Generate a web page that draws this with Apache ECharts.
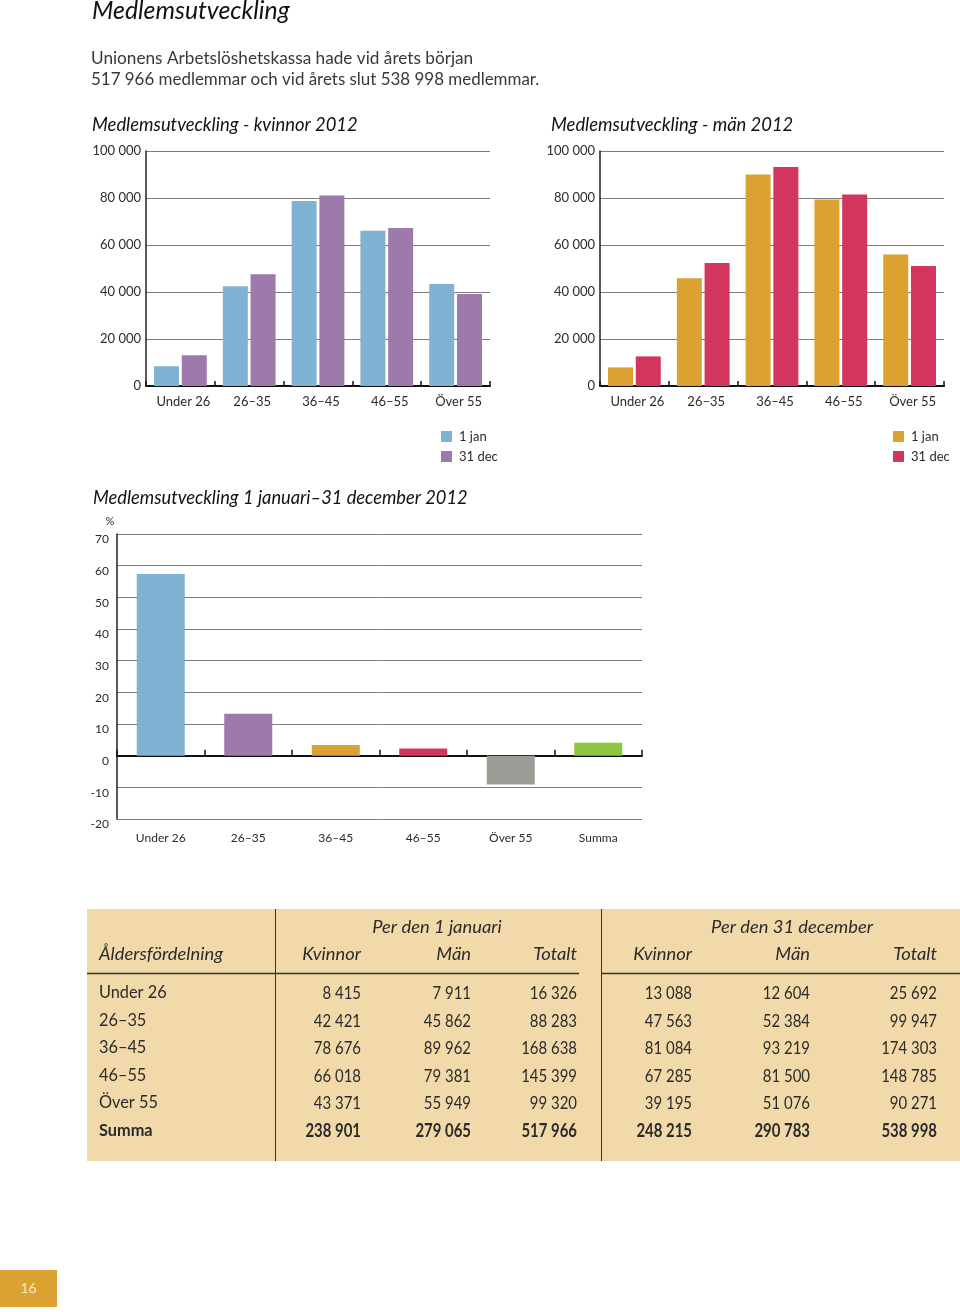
<!DOCTYPE html>
<html>
<head>
<meta charset="utf-8">
<script src="https://cdn.jsdelivr.net/npm/echarts@6/dist/echarts.min.js"></script>
<style>
html,body{margin:0;padding:0;background:#fff;}
#c{width:960px;height:1312px;}
</style>
</head>
<body>
<div id="c"></div>
<script>
// ---------- data ----------
const categories = ['Under 26', '26–35', '36–45', '46–55', 'Över 55'];
const kvinnorJan = [8415, 42421, 78676, 66018, 43371];
const kvinnorDec = [13088, 47563, 81084, 67285, 39195];
const manJan = [7911, 45862, 89962, 79381, 55949];
const manDec = [12604, 52384, 93219, 81500, 51076];

const changeCategories = ['Under 26', '26–35', '36–45', '46–55', 'Över 55', 'Summa'];
const changePct = [57.4, 13.2, 3.4, 2.3, -9.1, 4.1];

const tableRows = ['Under 26', '26–35', '36–45', '46–55', 'Över 55', 'Summa'];
const janKvinnor = [8415, 42421, 78676, 66018, 43371, 238901];
const janMan = [7911, 45862, 89962, 79381, 55949, 279065];
const janTotalt = [16326, 88283, 168638, 145399, 99320, 517966];
const decKvinnor = [13088, 47563, 81084, 67285, 39195, 248215];
const decMan = [12604, 52384, 93219, 81500, 51076, 290783];
const decTotalt = [25692, 99947, 174303, 148785, 90271, 538998];

// ---------- styles ----------
const FONT = 'Lato, "Noto Sans", sans-serif';
const C_BLUE = '#7fb2d3', C_PURPLE = '#9d79ac', C_GOLD = '#dba232', C_RED = '#d2365e';
const changeColors = ['#7fb2d3', '#9d79ac', '#dba232', '#d2365e', '#9d9b95', '#8dc63f'];
const TXT = '#2b2b2b';

function fmt(v) { return String(v).replace(/\B(?=(\d{3})+(?!\d))/g, ' '); }

function memberY(idx) {
  return {
    type: 'value', gridIndex: idx, min: 0, max: 100000, interval: 20000,
    axisLine: { show: true, lineStyle: { color: '#222', width: 1.5 } },
    axisTick: { show: false },
    axisLabel: { color: TXT, fontFamily: FONT, fontSize: 13, margin: 5, formatter: fmt },
    splitLine: { lineStyle: { color: '#7d7d7d', width: 1 } }
  };
}
function memberX(idx) {
  return {
    type: 'category', gridIndex: idx, data: categories,
    axisLine: { lineStyle: { color: '#111', width: 2 } },
    axisTick: { show: true, inside: true, length: 5, lineStyle: { color: '#111', width: 1.5 } },
    axisLabel: { color: TXT, fontFamily: FONT, fontSize: 13, margin: 9, interval: 0, padding: [0, 0, 0, 6] }
  };
}
function barSeries(name, data, color, idx) {
  return {
    type: 'bar', name: name, xAxisIndex: idx, yAxisIndex: idx, data: data,
    barWidth: 25, barGap: '11%', itemStyle: { color: color }, silent: true
  };
}

function txt(x, y, text, opt) {
  opt = opt || {};
  return {
    type: 'text', x: x, y: y, scaleX: opt.sx || 1, silent: true,
    style: {
      text: text, x: 0, y: 0,
      font: (opt.style || '') + ' ' + (opt.weight || 'normal') + ' ' + (opt.size || 17) + 'px ' + FONT,
      fill: opt.color || TXT,
      align: opt.align || 'left', textAlign: opt.align || 'left',
      verticalAlign: 'middle', textVerticalAlign: 'middle'
    }
  };
}

// ---------- graphics (titles, table) ----------
const graphics = [];
graphics.push(txt(92, 11, 'Medlemsutveckling', { style: 'italic', size: 24.8, color: '#111' }));
graphics.push(txt(91, 58, 'Unionens Arbetslöshetskassa hade vid årets början', { size: 17.2, color: '#383838' }));
graphics.push(txt(91, 79, '517 966 medlemmar och vid årets slut 538 998 medlemmar.', { size: 17.2, color: '#383838', sx: 0.985 }));
graphics.push(txt(92, 125, 'Medlemsutveckling - kvinnor 2012', { style: 'italic', size: 18.4, color: '#111' }));
graphics.push(txt(551, 125, 'Medlemsutveckling - män 2012', { style: 'italic', size: 18.4, color: '#111' }));
graphics.push(txt(93, 498, 'Medlemsutveckling 1 januari–31 december 2012', { style: 'italic', size: 18.3, color: '#111' }));
graphics.push(txt(110, 521, '%', { size: 11, align: 'center' }));

// table background and rules
graphics.push({ type: 'rect', silent: true, shape: { x: 87, y: 909, width: 873, height: 252 }, style: { fill: '#f2d9a9' } });
graphics.push({ type: 'line', silent: true, shape: { x1: 275.5, y1: 909, x2: 275.5, y2: 1161 }, style: { stroke: '#333', lineWidth: 1 } });
graphics.push({ type: 'line', silent: true, shape: { x1: 601.5, y1: 909, x2: 601.5, y2: 1161 }, style: { stroke: '#333', lineWidth: 1 } });
graphics.push({ type: 'line', silent: true, shape: { x1: 87, y1: 973.5, x2: 579, y2: 973.5 }, style: { stroke: '#333', lineWidth: 1.5 } });
graphics.push({ type: 'line', silent: true, shape: { x1: 601, y1: 973.5, x2: 960, y2: 973.5 }, style: { stroke: '#333', lineWidth: 1.5 } });

const SXH = 1.02, SXN = 0.83;
graphics.push(txt(437, 927, 'Per den 1 januari', { style: 'italic', size: 18, align: 'center', sx: SXH }));
graphics.push(txt(792, 927, 'Per den 31 december', { style: 'italic', size: 18, align: 'center', sx: SXH }));
graphics.push(txt(99, 954, 'Åldersfördelning', { style: 'italic', size: 18, sx: SXH }));
const colRight = [361, 471, 577, 692, 810, 937];
const colHeads = ['Kvinnor', 'Män', 'Totalt', 'Kvinnor', 'Män', 'Totalt'];
colHeads.forEach((h, i) => graphics.push(txt(colRight[i], 954, h, { style: 'italic', size: 18, align: 'right', sx: SXH })));
const cols = [janKvinnor, janMan, janTotalt, decKvinnor, decMan, decTotalt];
const rowY = [993, 1021, 1048, 1076, 1103, 1131];
tableRows.forEach((r, ri) => {
  const bold = ri === tableRows.length - 1 ? 'bold' : 'normal';
  graphics.push(txt(99, rowY[ri], r, { weight: bold, size: 17, sx: 0.96 }));
  cols.forEach((col, ci) => {
    graphics.push(txt(colRight[ci], rowY[ri], fmt(col[ri]), { weight: bold, size: 18, align: 'right', sx: SXN }));
  });
});

// page number
graphics.push({ type: 'rect', silent: true, shape: { x: 0, y: 1270, width: 57, height: 37 }, style: { fill: '#dba232' } });
graphics.push(txt(28.5, 1288, '16', { size: 14, align: 'center', color: '#f7ead0' }));

// ---------- chart ----------
const legendBase = {
  orient: 'vertical', top: 430, itemWidth: 11, itemHeight: 11, itemGap: 7, padding: 0,
  icon: 'rect', selectedMode: false,
  textStyle: { fontFamily: FONT, fontSize: 13, color: TXT, lineHeight: 11, padding: [0, 0, 0, 2] }
};
const chart = echarts.init(document.getElementById('c'), null, { renderer: 'canvas' });
const option = {
  backgroundColor: '#fff',
  animation: false,
  grid: [
    { left: 146, top: 151, width: 344, height: 235 },
    { left: 600, top: 151, width: 344, height: 235 },
    { left: 117, top: 534, width: 525, height: 285 }
  ],
  legend: [
    Object.assign({}, legendBase, {
      left: 441,
      data: [{ name: '1 jan', itemStyle: { color: C_BLUE } }, { name: '31 dec', itemStyle: { color: C_PURPLE } }]
    }),
    Object.assign({}, legendBase, {
      left: 893,
      data: [{ name: '1 jan', itemStyle: { color: C_GOLD } }, { name: '31 dec', itemStyle: { color: C_RED } }]
    })
  ],
  xAxis: [
    memberX(0), memberX(1),
    {
      type: 'category', gridIndex: 2, data: changeCategories,
      axisLine: { onZero: true, lineStyle: { color: '#111', width: 2 } },
      axisTick: { show: true, inside: true, length: 6, lineStyle: { color: '#111', width: 1.5 } },
      axisLabel: { color: TXT, fontFamily: FONT, fontSize: 12, margin: 13, interval: 0 }
    }
  ],
  yAxis: [
    memberY(0), memberY(1),
    {
      type: 'value', gridIndex: 2, min: -20, max: 70, interval: 10,
      axisLine: { show: true, lineStyle: { color: '#222', width: 1.5 } },
      axisTick: { show: false },
      axisLabel: { color: TXT, fontFamily: FONT, fontSize: 12, margin: 8, verticalAlign: 'top', lineHeight: 11 },
      splitLine: { lineStyle: { color: '#7d7d7d', width: 1 } }
    }
  ],
  series: [
    barSeries('1 jan', kvinnorJan, C_BLUE, 0),
    barSeries('31 dec', kvinnorDec, C_PURPLE, 0),
    barSeries('1 jan', manJan, C_GOLD, 1),
    barSeries('31 dec', manDec, C_RED, 1),
    {
      type: 'bar', name: 'Förändring', xAxisIndex: 2, yAxisIndex: 2, data: changePct,
      barWidth: 48, silent: true,
      itemStyle: { color: p => changeColors[p.dataIndex] }
    }
  ],
  graphic: graphics
};
chart.setOption(option);
</script>
</body>
</html>
